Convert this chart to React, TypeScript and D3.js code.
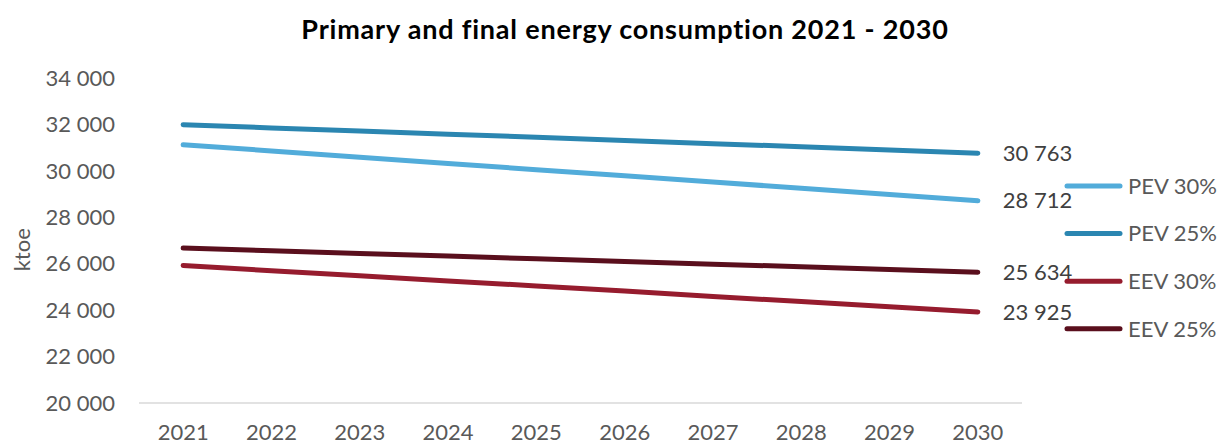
import { useEffect, useRef } from "react";
import * as d3 from "d3";

const years = ["2021", "2022", "2023", "2024", "2025", "2026", "2027", "2028", "2029", "2030"];

const pev30 = [31125, 30860, 30590, 30320, 30050, 29790, 29520, 29250, 28980, 28712];
const pev25 = [31990, 31850, 31720, 31580, 31450, 31310, 31170, 31040, 30900, 30763];
const eev30 = [25927, 25700, 25480, 25260, 25040, 24820, 24590, 24370, 24150, 23925];
const eev25 = [26672, 26560, 26440, 26330, 26210, 26100, 25980, 25870, 25750, 25634];

const seriesNames = ["PEV 30%", "PEV 25%", "EEV 30%", "EEV 25%"];
const yTicks = [20000, 22000, 24000, 26000, 28000, 30000, 32000, 34000];

const colors = ["#52acda", "#2b86b1", "#961c2e", "#5a0f1d"];

const App = () => {
  const chartRef = useRef<HTMLDivElement>(null);

  useEffect(() => {
    if (!chartRef.current) return;
    const width = 1218;
    const height = 446;
    const margin = { top: 78, right: 196, bottom: 43, left: 139 };
    const font = "Lato, 'Open Sans', sans-serif";
    const grey = "#595959";

    d3.select(chartRef.current).html("");

    const svg = d3
      .select(chartRef.current)
      .append("svg")
      .attr("width", width)
      .attr("height", height)
      .style("display", "block")
      .style("font-family", font);

    const allSeries = [pev30, pev25, eev30, eev25];

    const xScale = d3
      .scaleBand()
      .domain(years)
      .range([margin.left, width - margin.right]);

    const yScale = d3
      .scaleLinear()
      .domain([20000, 34000])
      .range([height - margin.bottom, margin.top]);

    const fmt = (v: number) => d3.format(",")(v).replace(/,/g, " ");

    // title
    svg
      .append("text")
      .attr("x", 625)
      .attr("y", 39)
      .attr("text-anchor", "middle")
      .style("font-size", "27px")
      .style("font-weight", "bold")
      .style("letter-spacing", "0.8px")
      .style("fill", "#000")
      .text("Primary and final energy consumption 2021 - 2030");

    // y tick labels
    svg
      .append("g")
      .selectAll("text")
      .data(yTicks)
      .join("text")
      .attr("x", 115)
      .attr("y", (d) => yScale(d))
      .attr("dy", "0.35em")
      .attr("text-anchor", "end")
      .style("font-size", "22px")
      .style("fill", grey)
      .text((d) => fmt(d));

    // y axis title
    svg
      .append("text")
      .attr("transform", `translate(30, ${yScale(26600)}) rotate(-90)`)
      .attr("text-anchor", "middle")
      .style("font-size", "22px")
      .style("fill", grey)
      .text("ktoe");

    // x axis line
    svg
      .append("line")
      .attr("x1", margin.left)
      .attr("x2", width - margin.right)
      .attr("y1", yScale(20000))
      .attr("y2", yScale(20000))
      .attr("stroke", "#d9d9d9")
      .attr("stroke-width", 1.5);

    // x labels
    svg
      .append("g")
      .selectAll("text")
      .data(years)
      .join("text")
      .attr("x", (d) => (xScale(d) as number) + xScale.bandwidth() / 2)
      .attr("y", 440)
      .attr("text-anchor", "middle")
      .style("font-size", "22px")
      .style("fill", grey)
      .text((d) => d);

    const line = d3
      .line<number>()
      .x((_, i) => (xScale(years[i]) as number) + xScale.bandwidth() / 2)
      .y((d) => yScale(d));

    allSeries.forEach((s, i) => {
      svg
        .append("path")
        .datum(s)
        .attr("d", line)
        .attr("fill", "none")
        .attr("stroke", colors[i])
        .attr("stroke-width", 5)
        .attr("stroke-linecap", "round")
        .attr("stroke-linejoin", "round");

      const last = s[s.length - 1];
      svg
        .append("text")
        .attr("x", (xScale(years[years.length - 1]) as number) + xScale.bandwidth() / 2 + 25)
        .attr("y", yScale(last))
        .attr("dy", "0.35em")
        .style("font-size", "22px")
        .style("fill", "#404040")
        .text(fmt(last));
    });

    // legend
    const legend = svg.append("g").attr("transform", "translate(1065, 186)");
    seriesNames.forEach((name, i) => {
      const g = legend.append("g").attr("transform", `translate(0, ${i * 47.6})`);
      g.append("line")
        .attr("x1", 2)
        .attr("x2", 55)
        .attr("stroke", colors[i])
        .attr("stroke-width", 5)
        .attr("stroke-linecap", "round");
      g.append("text")
        .attr("x", 63)
        .attr("dy", "0.35em")
        .style("font-size", "22px")
        .style("fill", grey)
        .text(name);
    });
  }, []);

  return <div ref={chartRef} style={{ position: "absolute", left: 0, top: 0 }}></div>;
};

export default App;
